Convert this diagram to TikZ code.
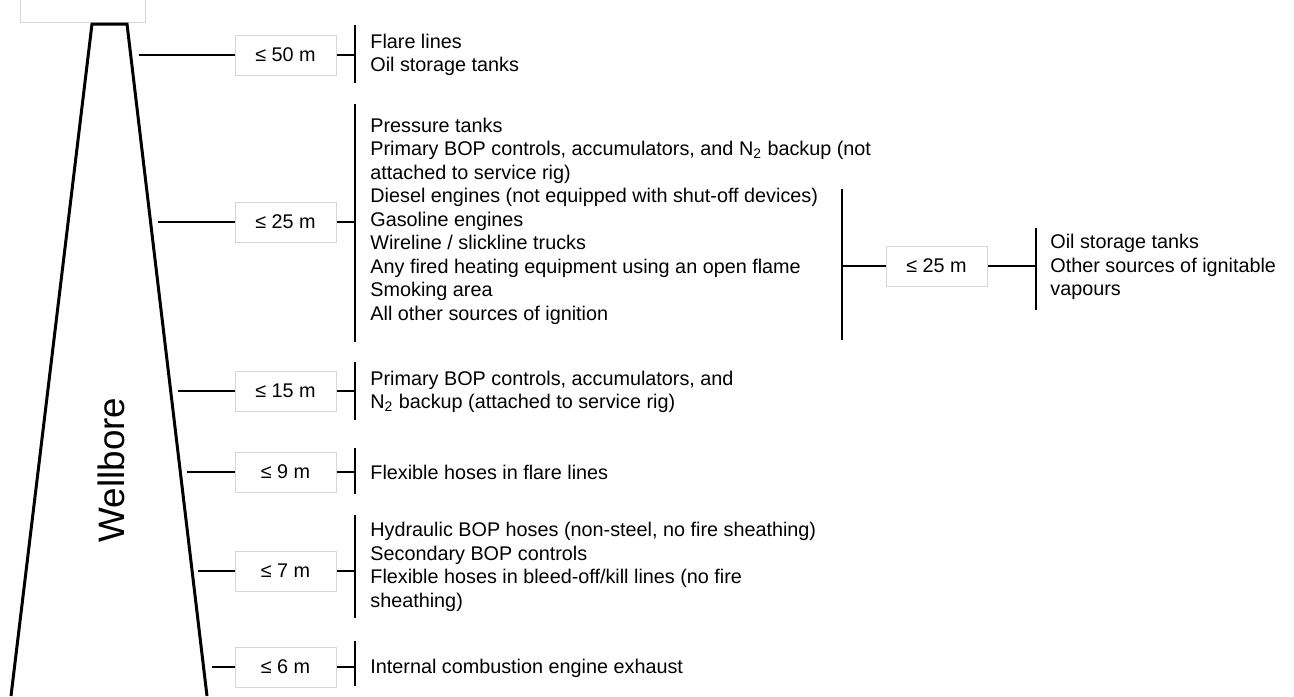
\documentclass[tikz,border=0pt]{standalone}
\usepackage{fontspec}
\setmainfont{Liberation Sans}
\usepackage{tikz}
\usetikzlibrary{calc}
\definecolor{boxline}{RGB}{214,214,214}
\newcommand{\itemfont}{\fontsize{9.9}{11.75}\selectfont}
\newcommand{\borefont}{\fontsize{18.4}{20}\selectfont}

\begin{document}
\begin{tikzpicture}[
  x=0.5pt,y=-0.5pt,
  dist/.style={draw=boxline,line width=0.5pt,fill=white,minimum width=50.5pt,minimum height=20pt,inner sep=0pt,font=\itemfont},
  items/.style={anchor=west,align=left,inner sep=0pt,font=\itemfont},
  bar/.style={line width=1pt},
  link/.style={line width=1pt},
  bore/.style={line width=1.5pt,line join=miter}
]
  \useasboundingbox (0,0) rectangle (1294,696);
  \clip (0,0) rectangle (1294,696);

  % wellbore
  \node[dist,minimum width=62.5pt] (cap) at (82.5,2) {};
  \coordinate (tl) at (92,24);
  \coordinate (tr) at (127,24);
  \coordinate (bl) at (11,696);
  \coordinate (br) at (207,696);
  \draw[bore] (bl) -- (tl) -- (tr) -- (br);
  \node[rotate=90,font=\borefont,inner sep=0pt] (wb) at (111,470) {Wellbore};

  % distance boxes
  \node[dist] (d50) at (285.5,55)  {≤ 50 m};
  \node[dist] (d25) at (285.5,222) {≤ 25 m};
  \node[dist] (d15) at (285.5,391) {≤ 15 m};
  \node[dist] (d9)  at (285.5,472) {≤ 9 m};
  \node[dist] (d7)  at (285.5,571) {≤ 7 m};
  \node[dist] (d6)  at (285.5,667) {≤ 6 m};
  \node[dist] (d25b) at (936.5,266) {≤ 25 m};

  % item lists
  \node[items] (t50) at (370,55) {Flare lines\\Oil storage tanks};
  \node[items] (t25) at (370,221) {Pressure tanks\\
    Primary BOP controls, accumulators, and N\textsubscript{2} backup (not\\
    attached to service rig)\\
    Diesel engines (not equipped with shut-off devices)\\
    Gasoline engines\\
    Wireline / slickline trucks\\
    Any fired heating equipment using an open flame\\
    Smoking area\\
    All other sources of ignition};
  \node[items] (t15) at (370,392) {Primary BOP controls, accumulators, and\\
    N\textsubscript{2} backup (attached to service rig)};
  \node[items] (t9) at (370,472) {Flexible hoses in flare lines};
  \node[items] (t7) at (370,567) {Hydraulic BOP hoses (non-steel, no fire sheathing)\\
    Secondary BOP controls\\
    Flexible hoses in bleed-off/kill lines (no fire\\
    sheathing)};
  \node[items] (t6) at (370,668) {Internal combustion engine exhaust};
  \node[items] (t25b) at (1050,267) {Oil storage tanks\\
    Other sources of ignitable\\
    vapours};

  % brackets
  \coordinate (b50a) at (355,25);  \coordinate (b50b) at (355,83);
  \coordinate (b25a) at (355,104); \coordinate (b25b) at (355,342);
  \coordinate (b15a) at (355,362); \coordinate (b15b) at (355,420);
  \coordinate (b9a)  at (355,448); \coordinate (b9b)  at (355,494);
  \coordinate (b7a)  at (355,515); \coordinate (b7b)  at (355,618);
  \coordinate (b6a)  at (355,641); \coordinate (b6b)  at (355,686);
  \coordinate (c1a)  at (842,189); \coordinate (c1b)  at (842,340);
  \coordinate (c2a)  at (1036,228); \coordinate (c2b) at (1036,310);
  \draw[bar] (b50a) -- (b50b);
  \draw[bar] (b25a) -- (b25b);
  \draw[bar] (b15a) -- (b15b);
  \draw[bar] (b9a) -- (b9b);
  \draw[bar] (b7a) -- (b7b);
  \draw[bar] (b6a) -- (b6b);
  \draw[bar] (c1a) -- (c1b);
  \draw[bar] (c2a) -- (c2b);

  % start points on the wellbore
  \coordinate (e50) at ($(tr)!0.0461!(br)+(8,0)$);
  \coordinate (e25) at ($(tr)!0.2946!(br)+(7,0)$);
  \coordinate (e15) at ($(tr)!0.5461!(br)+(7,0)$);
  \coordinate (e9)  at ($(tr)!0.6667!(br)+(7,0)$);
  \coordinate (e7)  at ($(tr)!0.8140!(br)+(6,0)$);
  \coordinate (e6)  at ($(tr)!0.9568!(br)+(8,0)$);

  % connectors
  \draw[link] (e50 |- d50) -- (d50);
  \draw[link] (e25 |- d25) -- (d25);
  \draw[link] (e15 |- d15) -- (d15);
  \draw[link] (e9 |- d9) -- (d9);
  \draw[link] (e7 |- d7) -- (d7);
  \draw[link] (e6 |- d6) -- (d6);
  \draw[link] (d50) -- (d50 -| b50a);
  \draw[link] (d25) -- (d25 -| b25a);
  \draw[link] (d15) -- (d15 -| b15a);
  \draw[link] (d9) -- (d9 -| b9a);
  \draw[link] (d7) -- (d7 -| b7a);
  \draw[link] (d6) -- (d6 -| b6a);
  \draw[link] (c1a |- d25b) -- (d25b);
  \draw[link] (d25b) -- (d25b -| c2a);
\end{tikzpicture}
\end{document}
